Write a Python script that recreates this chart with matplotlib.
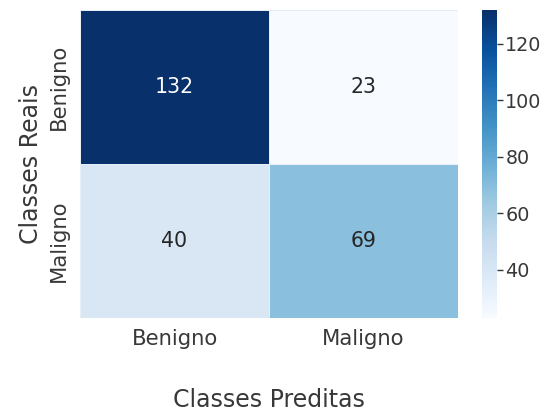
import matplotlib
matplotlib.use("Agg")
import matplotlib.pyplot as plt
import seaborn as sns
import numpy as np

classes = ["Benigno", "Maligno"]
row_benigno = [132, 23]
row_maligno = [40, 69]

matrix = np.array([row_benigno, row_maligno])

sns.set_theme(style="white")
plt.rcParams["font.family"] = ["DejaVu Sans"]
text_color = "#383838"

fig = plt.figure(figsize=(5.52, 4.12), dpi=100)
ax = fig.add_axes([80 / 552, 1 - 318 / 412, 378 / 552, 308 / 412])
cax = fig.add_axes([482 / 552, 1 - 318 / 412, 15 / 552, 308 / 412])

sns.heatmap(matrix, annot=True, fmt="d", cmap="Blues", ax=ax, cbar_ax=cax,
            linewidths=0.6, linecolor="#e8eef6",
            xticklabels=classes, yticklabels=classes,
            annot_kws={"fontsize": 14.8})

ax.tick_params(axis="both", length=0, labelsize=15.2, labelcolor=text_color, pad=8)
ax.set_xlabel("Classes Preditas", fontsize=17, color=text_color, labelpad=28)
ax.set_ylabel("Classes Reais", fontsize=17, color=text_color, labelpad=4)
for lbl in ax.get_yticklabels():
    lbl.set_va("center")

cax.tick_params(labelsize=13.8, labelcolor=text_color, length=4, width=1,
                color=text_color, pad=2)
cax.set_yticks([40, 60, 80, 100, 120])
for s in cax.spines.values():
    s.set_visible(False)

fig.savefig("out.png", dpi=100)
